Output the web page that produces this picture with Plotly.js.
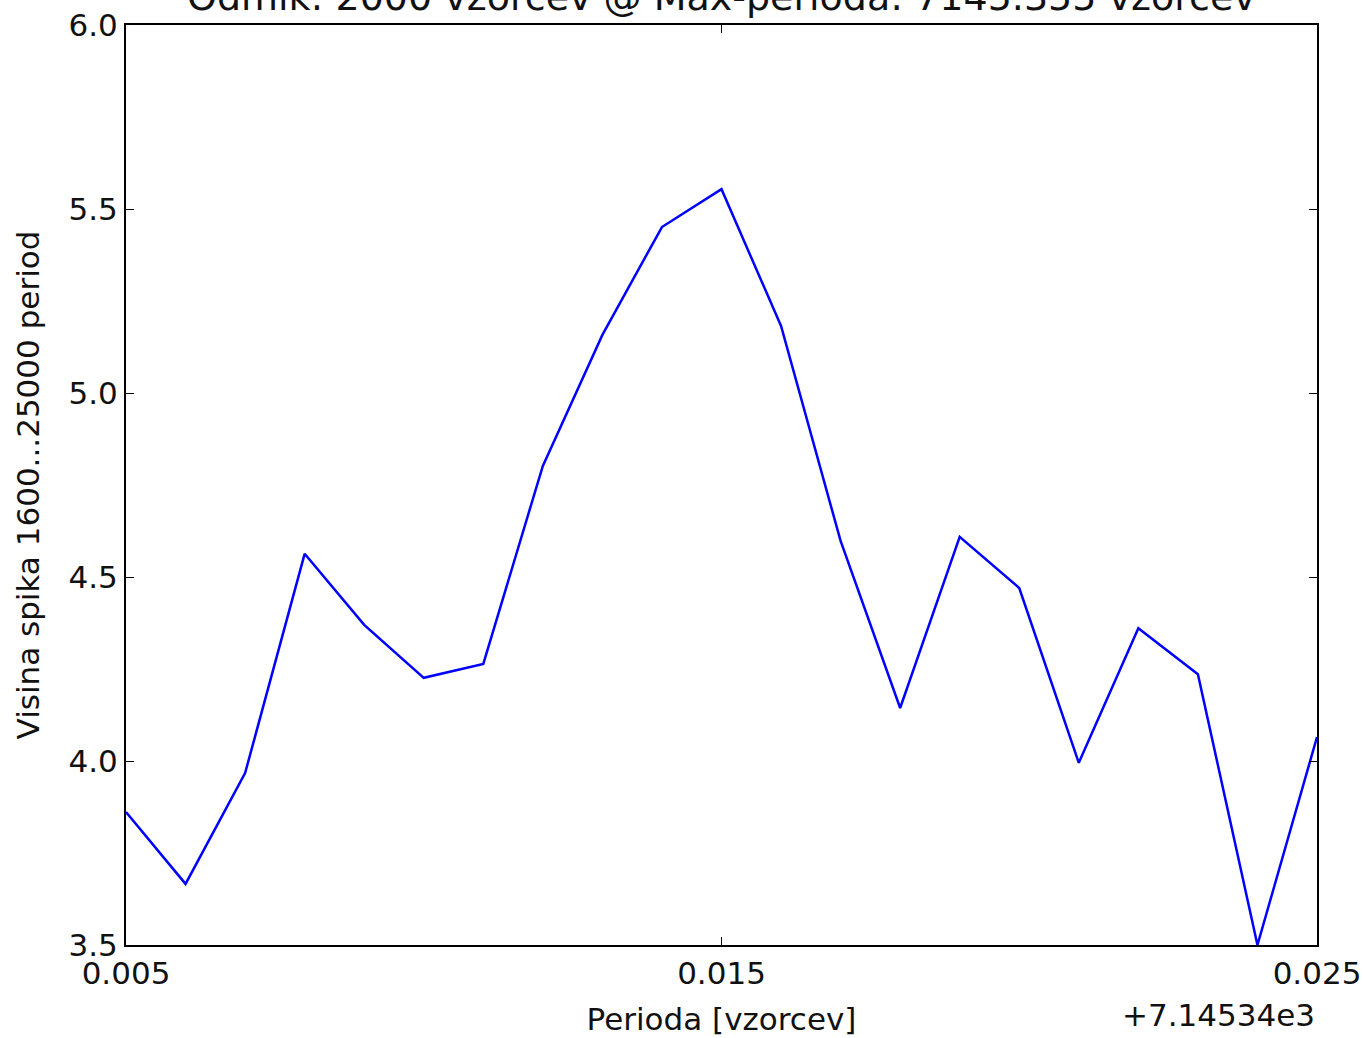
<!DOCTYPE html>
<html><head><meta charset="utf-8">
<script src="https://cdn.plot.ly/plotly-3.0.1.min.js"></script>
<style>html,body{margin:0;padding:0;background:#fff}</style>
</head><body><div id="chart" style="width:1363px;height:1038px"></div>
<script>
const titleText = "Odmik: 2000 vzorcev @ Max-perioda: 7145.355 vzorcev";
const xLabel = "Perioda [vzorcev]";
const yLabel = "Visina spika 1600...25000 period";
const offsetText = "+7.14534e3";
const periods = [7145.345, 7145.346, 7145.347, 7145.348, 7145.349, 7145.350, 7145.351,
  7145.352, 7145.353, 7145.354, 7145.355, 7145.356, 7145.357, 7145.358, 7145.359,
  7145.360, 7145.361, 7145.362, 7145.363, 7145.364, 7145.365];
const heights = [3.861, 3.666, 3.967, 4.563, 4.370, 4.226, 4.264, 4.802, 5.158, 5.451,
  5.554, 5.182, 4.598, 4.144, 4.609, 4.470, 3.995, 4.361, 4.236, 3.500, 4.065];
const xTickVals = [7145.345, 7145.355, 7145.365];
const xTickText = ["0.005", "0.015", "0.025"];
const yTickVals = [3.5, 4.0, 4.5, 5.0, 5.5, 6.0];
const yTickText = ["3.5", "4.0", "4.5", "5.0", "5.5", "6.0"];

const font = {family: "DejaVu Sans", size: 31, color: "#111"};
Plotly.newPlot("chart", [{
  x: periods, y: heights, type: "scatter", mode: "lines",
  line: {color: "#0000ff", width: 2.5}, cliponaxis: false
}], {
  width: 1363, height: 1038,
  margin: {l: 126, r: 46, t: 25, b: 93},
  paper_bgcolor: "#fff", plot_bgcolor: "#fff",
  font: font,
  showlegend: false,
  xaxis: {range: [7145.345, 7145.365], tickvals: xTickVals, ticktext: xTickText,
    ticks: "inside", ticklen: 8, tickwidth: 1, tickcolor: "#000",
    showline: true, linecolor: "#000", linewidth: 2, mirror: "ticks",
    showgrid: false, zeroline: false, tickfont: font,
    title: {text: xLabel, font: font, standoff: 18}},
  yaxis: {range: [3.5, 6.0], tickvals: yTickVals, ticktext: yTickText,
    ticks: "inside", ticklen: 8, tickwidth: 1, tickcolor: "#000",
    showline: true, linecolor: "#000", linewidth: 2, mirror: "ticks",
    showgrid: false, zeroline: false, tickfont: font,
    title: {text: yLabel, font: font, standoff: 20}},
  annotations: [
    {text: titleText, xref: "paper", yref: "paper", x: 0.5, y: 1,
      xanchor: "center", yanchor: "bottom", yshift: 4, showarrow: false,
      font: {family: "DejaVu Sans", size: 38, color: "#111"}},
    {text: offsetText, xref: "paper", yref: "paper", x: 1, y: 0,
    xanchor: "right", yanchor: "middle", yshift: -70, showarrow: false, font: font}]
}, {displayModeBar: false, staticPlot: true});
</script></body></html>
